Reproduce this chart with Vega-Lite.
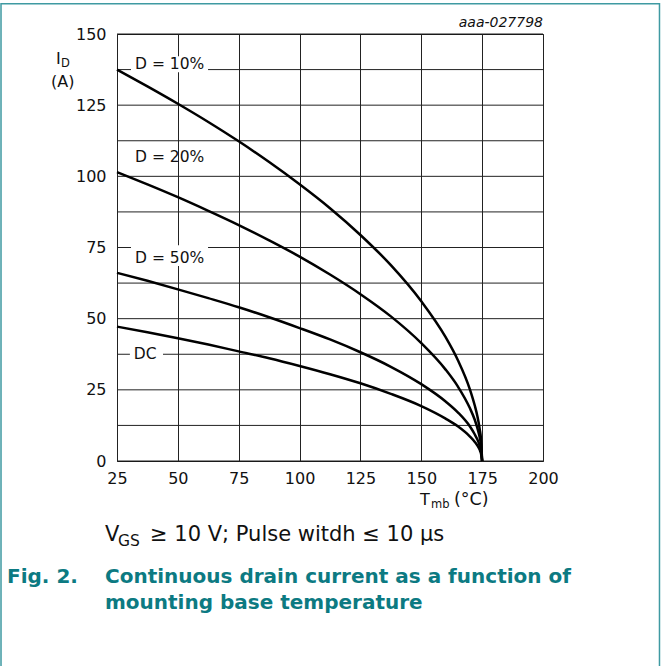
{
  "$schema": "https://vega.github.io/schema/vega-lite/v6.json",
  "width": 426,
  "height": 427,
  "autosize": {"type": "none"},
  "padding": {"left": 117, "top": 34, "right": 119, "bottom": 205},
  "background": "white",
  "config": {
    "view": {"stroke": "#111", "strokeWidth": 1},
    "font": "DejaVu Sans",
    "text": {"font": "DejaVu Sans"}
  },
  "datasets": {
    "curves": [
      {"T": 25, "I": 137.5, "s": "D10"}, {"T": 37.5, "I": 131.6, "s": "D10"}, {"T": 50, "I": 125.5, "s": "D10"}, {"T": 62.5, "I": 119.1, "s": "D10"}, {"T": 75, "I": 112.3, "s": "D10"}, {"T": 87.5, "I": 105.0, "s": "D10"}, {"T": 100, "I": 97.2, "s": "D10"}, {"T": 112.5, "I": 88.8, "s": "D10"}, {"T": 125, "I": 79.4, "s": "D10"}, {"T": 137.5, "I": 68.8, "s": "D10"}, {"T": 150, "I": 56.1, "s": "D10"}, {"T": 160, "I": 43.5, "s": "D10"}, {"T": 165, "I": 35.5, "s": "D10"}, {"T": 170, "I": 25.1, "s": "D10"}, {"T": 172, "I": 19.4, "s": "D10"}, {"T": 173, "I": 15.9, "s": "D10"}, {"T": 174, "I": 11.2, "s": "D10"}, {"T": 174.5, "I": 7.9, "s": "D10"}, {"T": 175, "I": 0, "s": "D10"},
      {"T": 25, "I": 101.5, "s": "D20"}, {"T": 37.5, "I": 97.2, "s": "D20"}, {"T": 50, "I": 92.7, "s": "D20"}, {"T": 62.5, "I": 87.9, "s": "D20"}, {"T": 75, "I": 82.9, "s": "D20"}, {"T": 87.5, "I": 77.5, "s": "D20"}, {"T": 100, "I": 71.8, "s": "D20"}, {"T": 112.5, "I": 65.5, "s": "D20"}, {"T": 125, "I": 58.6, "s": "D20"}, {"T": 137.5, "I": 50.8, "s": "D20"}, {"T": 150, "I": 41.4, "s": "D20"}, {"T": 160, "I": 32.1, "s": "D20"}, {"T": 165, "I": 26.2, "s": "D20"}, {"T": 170, "I": 18.5, "s": "D20"}, {"T": 172, "I": 14.4, "s": "D20"}, {"T": 173, "I": 11.7, "s": "D20"}, {"T": 174, "I": 8.3, "s": "D20"}, {"T": 174.5, "I": 5.9, "s": "D20"}, {"T": 175, "I": 0, "s": "D20"},
      {"T": 25, "I": 66.1, "s": "D50"}, {"T": 37.5, "I": 63.3, "s": "D50"}, {"T": 50, "I": 60.3, "s": "D50"}, {"T": 62.5, "I": 57.2, "s": "D50"}, {"T": 75, "I": 54.0, "s": "D50"}, {"T": 87.5, "I": 50.5, "s": "D50"}, {"T": 100, "I": 46.7, "s": "D50"}, {"T": 112.5, "I": 42.7, "s": "D50"}, {"T": 125, "I": 38.2, "s": "D50"}, {"T": 137.5, "I": 33.1, "s": "D50"}, {"T": 150, "I": 27.0, "s": "D50"}, {"T": 160, "I": 20.9, "s": "D50"}, {"T": 165, "I": 17.1, "s": "D50"}, {"T": 170, "I": 12.1, "s": "D50"}, {"T": 172, "I": 9.3, "s": "D50"}, {"T": 173, "I": 7.6, "s": "D50"}, {"T": 174, "I": 5.4, "s": "D50"}, {"T": 174.5, "I": 3.8, "s": "D50"}, {"T": 175, "I": 0, "s": "D50"},
      {"T": 25, "I": 47.2, "s": "DC"}, {"T": 37.5, "I": 45.2, "s": "DC"}, {"T": 50, "I": 43.1, "s": "DC"}, {"T": 62.5, "I": 40.9, "s": "DC"}, {"T": 75, "I": 38.5, "s": "DC"}, {"T": 87.5, "I": 36.1, "s": "DC"}, {"T": 100, "I": 33.4, "s": "DC"}, {"T": 112.5, "I": 30.5, "s": "DC"}, {"T": 125, "I": 27.3, "s": "DC"}, {"T": 137.5, "I": 23.6, "s": "DC"}, {"T": 150, "I": 19.3, "s": "DC"}, {"T": 160, "I": 14.9, "s": "DC"}, {"T": 165, "I": 12.2, "s": "DC"}, {"T": 170, "I": 8.6, "s": "DC"}, {"T": 172, "I": 6.7, "s": "DC"}, {"T": 173, "I": 5.5, "s": "DC"}, {"T": 174, "I": 3.9, "s": "DC"}, {"T": 174.5, "I": 2.7, "s": "DC"}, {"T": 175, "I": 0, "s": "DC"}
    ],
    "hgrid": [
      {"I": 0}, {"I": 12.5}, {"I": 25}, {"I": 37.5}, {"I": 50}, {"I": 62.5}, {"I": 75}, {"I": 87.5}, {"I": 100}, {"I": 112.5}, {"I": 125}, {"I": 137.5}, {"I": 150}
    ],
    "masks": [
      {"T": 30.75, "T2": 62.4, "I": 142.2, "I2": 136.6},
      {"T": 30.75, "T2": 62.4, "I": 75.8, "I2": 68.5},
      {"T": 30.3, "T2": 43.9, "I": 40.7, "I2": 35.8}
    ],
    "frame": [
      {"T": -22.65, "T2": 247.85, "I": 160.64, "I2": -72.7}
    ],
    "texts": [
      {"role": "lab", "text": "D = 10%", "T": 32.4, "I": 139.4},
      {"role": "lab", "text": "D = 20%", "T": 32.4, "I": 106.7},
      {"role": "lab", "text": "D = 50%", "T": 32.4, "I": 71.3},
      {"role": "lab", "text": "DC", "T": 31.9, "I": 37.7},
      {"role": "ax", "text": "I", "T": -0.06, "I": 141.1},
      {"role": "ax", "text": "(A)", "T": -2.1, "I": 133.1},
      {"role": "ax", "text": "T", "T": 149.5, "I": -13.7},
      {"role": "ax2", "text": "(°C)", "T": 163.4, "I": -13.7},
      {"role": "sub", "text": "D", "T": 2.0, "I": 139.6},
      {"role": "sub", "text": "mb", "T": 154.0, "I": -15.45},
      {"role": "capsub", "text": "GS", "T": 25.41, "I": -28.1},
      {"role": "cap", "text": "V", "T": 20.07, "I": -26.0},
      {"role": "cap", "text": "≥ 10 V; Pulse witdh ≤ 10 μs", "T": 38.56, "I": -26.0},
      {"role": "fig", "text": "Fig. 2.", "T": -20.19, "I": -40.73},
      {"role": "fig", "text": "Continuous drain current as a function of", "T": 20.07, "I": -40.73},
      {"role": "fig", "text": "mounting base temperature", "T": 20.07, "I": -49.86},
      {"role": "code", "text": "aaa-027798", "T": 200, "I": 153.97}
    ]
  },
  "layer": [
    {
      "data": {"name": "hgrid"},
      "mark": {"type": "rule", "color": "#222", "strokeWidth": 1},
      "encoding": {
        "y": {"field": "I", "type": "quantitative", "title": null,
          "scale": {"domain": [0, 150], "nice": false, "zero": false},
          "axis": {"values": [0, 25, 50, 75, 100, 125, 150], "grid": false, "domain": false, "ticks": false, "labelPadding": 11, "labelFontSize": 16, "labelColor": "#111", "labelFont": "DejaVu Sans", "labelFlush": false, "labelOverlap": false, "title": null}}
      }
    },
    {
      "data": {"name": "masks"},
      "mark": {"type": "rect", "fill": "white", "stroke": null},
      "encoding": {
        "x": {"field": "T", "type": "quantitative", "title": null, "scale": {"domain": [25, 200], "nice": false, "zero": false}},
        "x2": {"field": "T2"},
        "y": {"field": "I", "type": "quantitative", "title": null, "scale": {"domain": [0, 150], "nice": false, "zero": false}},
        "y2": {"field": "I2"}
      }
    },
    {
      "data": {"name": "curves"},
      "mark": {"type": "line", "color": "#000", "strokeWidth": 2.5, "interpolate": "monotone"},
      "encoding": {
        "x": {"field": "T", "type": "quantitative", "title": null,
          "scale": {"domain": [25, 200], "nice": false, "zero": false},
          "axis": {"values": [25, 50, 75, 100, 125, 150, 175, 200], "grid": true, "gridColor": "#222", "gridOpacity": 1, "gridWidth": 1, "domain": false, "ticks": false, "labelPadding": 9, "labelFontSize": 16, "labelColor": "#111", "labelFont": "DejaVu Sans", "labelFlush": false, "labelOverlap": false, "title": null}},
        "y": {"field": "I", "type": "quantitative", "title": null,
          "scale": {"domain": [0, 150], "nice": false, "zero": false}},
        "detail": {"field": "s", "type": "nominal"}
      }
    },
    {
      "data": {"name": "frame"},
      "mark": {"type": "rect", "fill": null, "fillOpacity": 0, "stroke": "#3f9aa2", "strokeWidth": 1.5, "clip": false},
      "encoding": {
        "x": {"field": "T", "type": "quantitative", "title": null, "scale": {"domain": [25, 200], "nice": false, "zero": false}},
        "x2": {"field": "T2"},
        "y": {"field": "I", "type": "quantitative", "title": null, "scale": {"domain": [0, 150], "nice": false, "zero": false}},
        "y2": {"field": "I2"}
      }
    },
    {
      "data": {"name": "texts"},
      "transform": [{"filter": "datum.role === 'lab'"}],
      "mark": {"type": "text", "align": "left", "baseline": "middle", "fontSize": 15.5, "color": "#111", "font": "DejaVu Sans"},
      "encoding": {
        "x": {"field": "T", "type": "quantitative", "title": null, "scale": {"domain": [25, 200], "nice": false, "zero": false}},
        "y": {"field": "I", "type": "quantitative", "title": null, "scale": {"domain": [0, 150], "nice": false, "zero": false}},
        "text": {"field": "text"}
      }
    },
    {
      "data": {"name": "texts"},
      "transform": [{"filter": "datum.role === 'ax'"}],
      "mark": {"type": "text", "align": "left", "baseline": "middle", "fontSize": 16, "color": "#111", "font": "DejaVu Sans"},
      "encoding": {
        "x": {"field": "T", "type": "quantitative", "title": null, "scale": {"domain": [25, 200], "nice": false, "zero": false}},
        "y": {"field": "I", "type": "quantitative", "title": null, "scale": {"domain": [0, 150], "nice": false, "zero": false}},
        "text": {"field": "text"}
      }
    },
    {
      "data": {"name": "texts"},
      "transform": [{"filter": "datum.role === 'ax2'"}],
      "mark": {"type": "text", "align": "left", "baseline": "middle", "fontSize": 17.5, "color": "#111", "font": "DejaVu Sans"},
      "encoding": {
        "x": {"field": "T", "type": "quantitative", "title": null, "scale": {"domain": [25, 200], "nice": false, "zero": false}},
        "y": {"field": "I", "type": "quantitative", "title": null, "scale": {"domain": [0, 150], "nice": false, "zero": false}},
        "text": {"field": "text"}
      }
    },
    {
      "data": {"name": "texts"},
      "transform": [{"filter": "datum.role === 'sub'"}],
      "mark": {"type": "text", "align": "left", "baseline": "middle", "fontSize": 11.5, "color": "#111", "font": "DejaVu Sans"},
      "encoding": {
        "x": {"field": "T", "type": "quantitative", "title": null, "scale": {"domain": [25, 200], "nice": false, "zero": false}},
        "y": {"field": "I", "type": "quantitative", "title": null, "scale": {"domain": [0, 150], "nice": false, "zero": false}},
        "text": {"field": "text"}
      }
    },
    {
      "data": {"name": "texts"},
      "transform": [{"filter": "datum.role === 'capsub'"}],
      "mark": {"type": "text", "align": "left", "baseline": "middle", "fontSize": 15.5, "color": "#111", "font": "DejaVu Sans"},
      "encoding": {
        "x": {"field": "T", "type": "quantitative", "title": null, "scale": {"domain": [25, 200], "nice": false, "zero": false}},
        "y": {"field": "I", "type": "quantitative", "title": null, "scale": {"domain": [0, 150], "nice": false, "zero": false}},
        "text": {"field": "text"}
      }
    },
    {
      "data": {"name": "texts"},
      "transform": [{"filter": "datum.role === 'cap'"}],
      "mark": {"type": "text", "align": "left", "baseline": "middle", "fontSize": 21, "color": "#111", "font": "DejaVu Sans"},
      "encoding": {
        "x": {"field": "T", "type": "quantitative", "title": null, "scale": {"domain": [25, 200], "nice": false, "zero": false}},
        "y": {"field": "I", "type": "quantitative", "title": null, "scale": {"domain": [0, 150], "nice": false, "zero": false}},
        "text": {"field": "text"}
      }
    },
    {
      "data": {"name": "texts"},
      "transform": [{"filter": "datum.role === 'fig'"}],
      "mark": {"type": "text", "align": "left", "baseline": "middle", "fontSize": 20, "fontWeight": "bold", "color": "#0c7a82", "font": "DejaVu Sans"},
      "encoding": {
        "x": {"field": "T", "type": "quantitative", "title": null, "scale": {"domain": [25, 200], "nice": false, "zero": false}},
        "y": {"field": "I", "type": "quantitative", "title": null, "scale": {"domain": [0, 150], "nice": false, "zero": false}},
        "text": {"field": "text"}
      }
    },
    {
      "data": {"name": "texts"},
      "transform": [{"filter": "datum.role === 'code'"}],
      "mark": {"type": "text", "align": "right", "baseline": "middle", "fontSize": 14, "fontStyle": "italic", "color": "#111", "font": "DejaVu Sans"},
      "encoding": {
        "x": {"field": "T", "type": "quantitative", "title": null, "scale": {"domain": [25, 200], "nice": false, "zero": false}},
        "y": {"field": "I", "type": "quantitative", "title": null, "scale": {"domain": [0, 150], "nice": false, "zero": false}},
        "text": {"field": "text"}
      }
    }
  ]
}
